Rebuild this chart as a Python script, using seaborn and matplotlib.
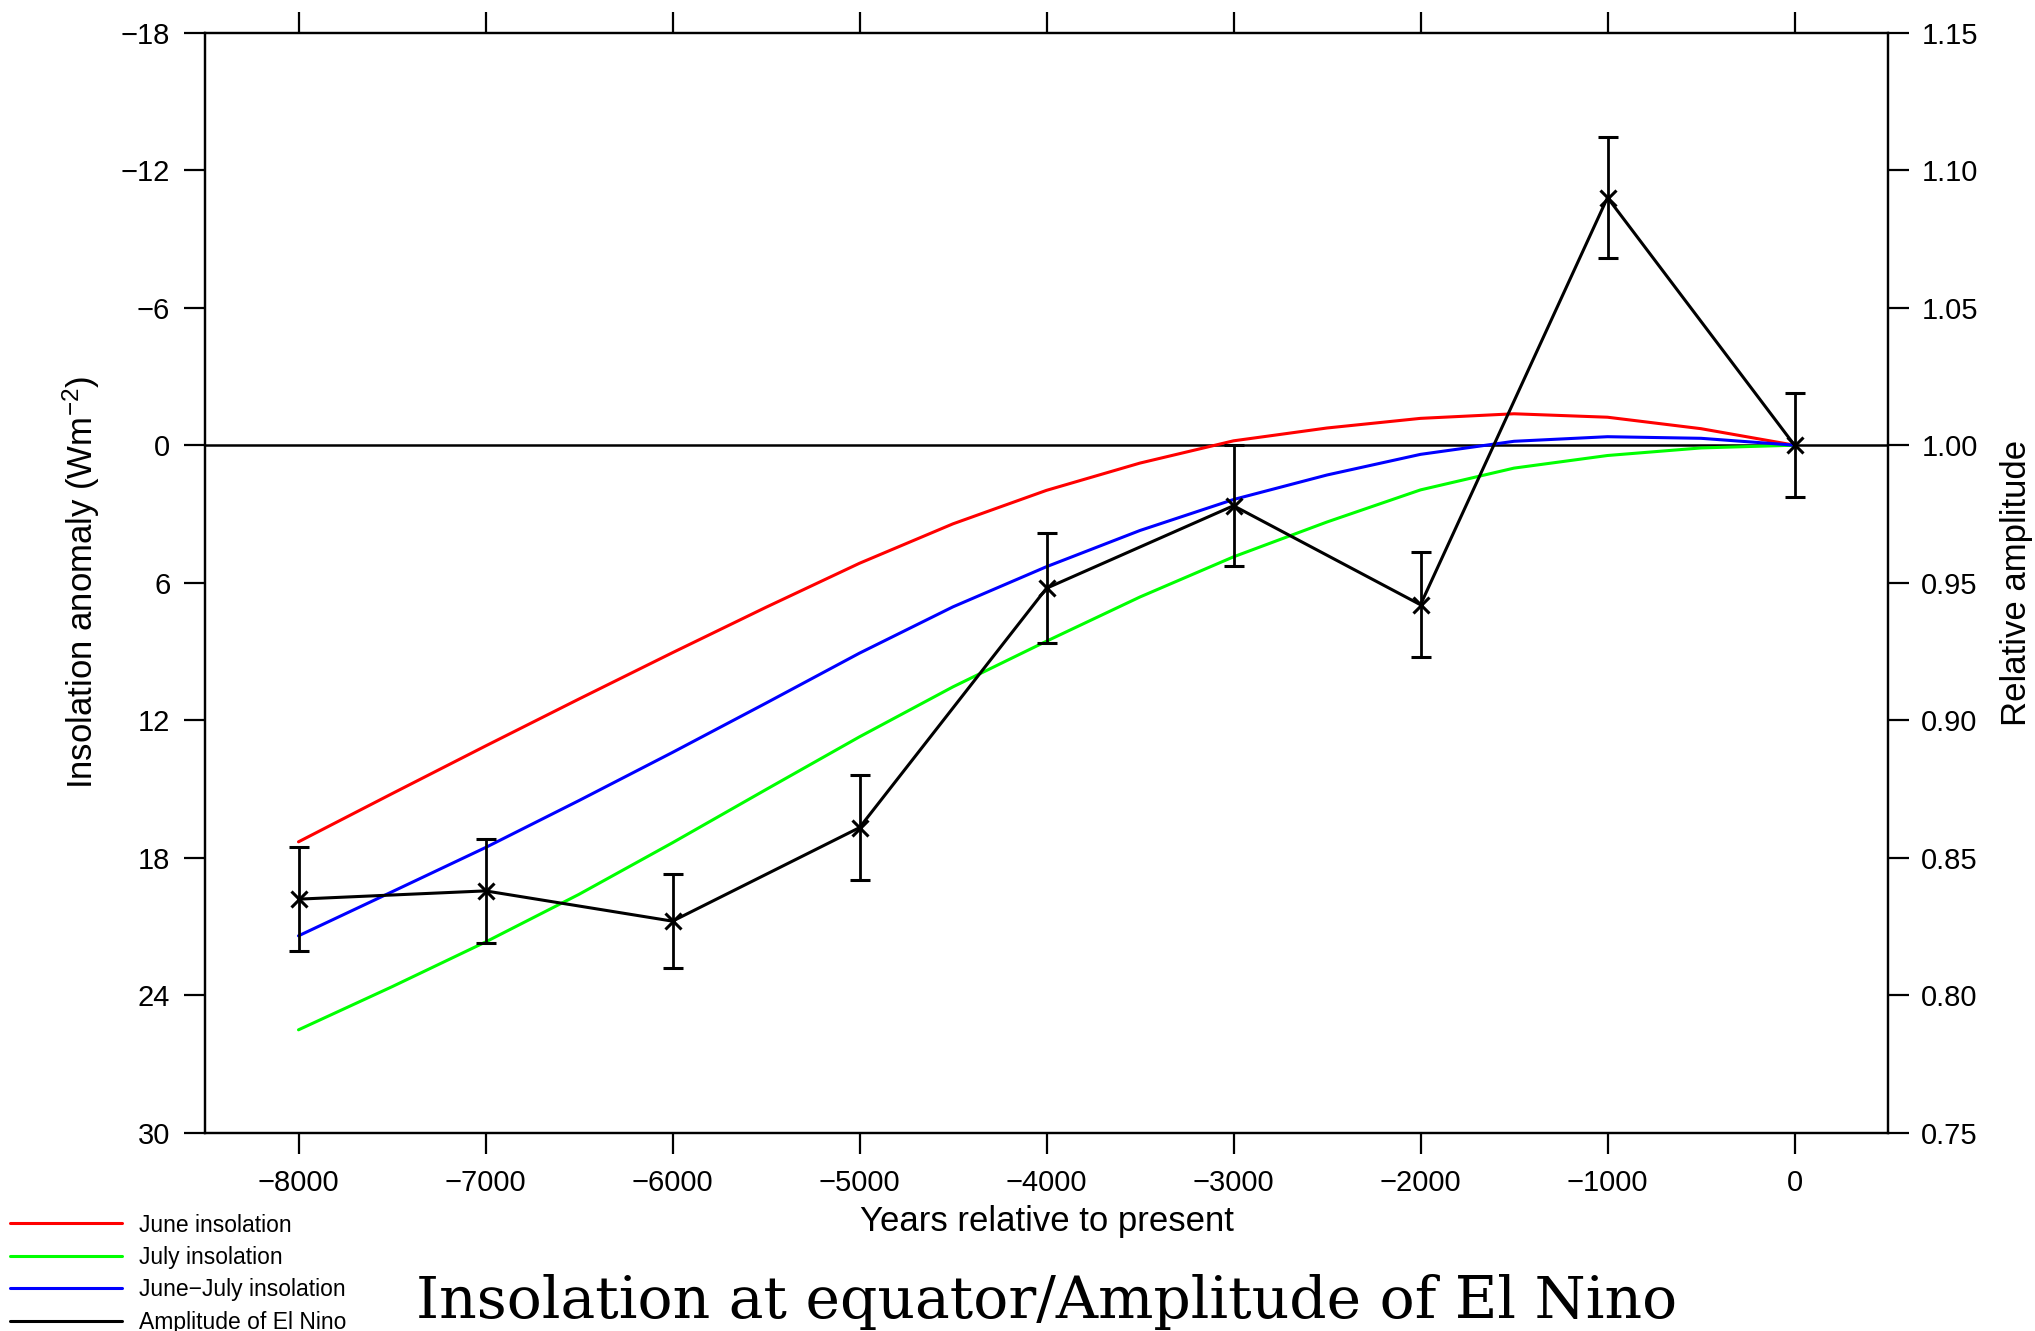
import numpy as np
import pandas as pd
import matplotlib
matplotlib.use("Agg")
import matplotlib.pyplot as plt
from matplotlib.lines import Line2D
import seaborn as sns

# ---------------- data ----------------
years = [-8000, -7500, -7000, -6500, -6000, -5500, -5000, -4500, -4000,
         -3500, -3000, -2500, -2000, -1500, -1000, -500, 0]
june_insolation = [17.3, 15.2, 13.12, 11.07, 9.05, 7.07, 5.15, 3.43, 1.97,
                   0.78, -0.19, -0.75, -1.17, -1.37, -1.22, -0.72, 0.0]
july_insolation = [25.5, 23.62, 21.67, 19.59, 17.34, 15.02, 12.72, 10.54, 8.55,
                   6.62, 4.87, 3.35, 1.95, 1.0, 0.45, 0.12, 0.0]
junejuly_insolation = [21.4, 19.48, 17.55, 15.5, 13.4, 11.25, 9.07, 7.05, 5.3,
                       3.72, 2.37, 1.3, 0.4, -0.17, -0.37, -0.3, 0.0]

nino_years = [-8000, -7000, -6000, -5000, -4000, -3000, -2000, -1000, 0]
nino_amplitude = [0.835, 0.838, 0.827, 0.861, 0.948, 0.978, 0.942, 1.090, 1.000]
nino_error = [0.019, 0.019, 0.017, 0.019, 0.020, 0.022, 0.019, 0.022, 0.019]

series_names = ["June insolation", "July insolation", "June\u2212July insolation"]
nino_name = "Amplitude of El Nino"
x_ticks = [-8000, -7000, -6000, -5000, -4000, -3000, -2000, -1000, 0]
left_ticks = [-18, -12, -6, 0, 6, 12, 18, 24, 30]
right_ticks = [0.75, 0.80, 0.85, 0.90, 0.95, 1.00, 1.05, 1.10, 1.15]

title = "Insolation at equator/Amplitude of El Nino"
xlabel = "Years relative to present"
ylabel_left = "Insolation anomaly (Wm$^{-2}$)"
ylabel_right = "Relative amplitude"

# ---------------- style ----------------
sns.set_style("ticks")
plt.rcParams["font.family"] = ["Liberation Sans", "DejaVu Sans"]
plt.rcParams["mathtext.default"] = "regular"
plt.rcParams["axes.linewidth"] = 1.6
for key in ["text.color", "axes.labelcolor", "xtick.color", "ytick.color",
            "axes.edgecolor"]:
    plt.rcParams[key] = "black"

colors = {series_names[0]: "#ff0000", series_names[1]: "#00ff00", series_names[2]: "#0000ff"}

df = pd.DataFrame({
    "year": years * 3,
    "value": june_insolation + july_insolation + junejuly_insolation,
    "series": [series_names[0]] * len(years) + [series_names[1]] * len(years)
              + [series_names[2]] * len(years),
})

W, H = 2035, 1331
fig = plt.figure(figsize=(W / 100, H / 100), dpi=100)
ax = fig.add_axes([205 / W, 1 - 1133 / H, 1683 / W, (1133 - 32.5) / H])

ax.axhline(0, color="black", lw=1.8, zorder=1)
sns.lineplot(data=df, x="year", y="value", hue="series", hue_order=series_names,
             palette=colors, ax=ax, legend=False, linewidth=2.2,
             estimator=None, sort=False, zorder=2)

ax.set_xlim(-8500, 500)
ax.set_ylim(30, -18)
ax.set_xticks(x_ticks)
ax.set_xticklabels([f"{v}".replace("-", "\u2212") for v in x_ticks])
ax.set_yticks(left_ticks)
ax.set_yticklabels([f"{v}".replace("-", "\u2212") for v in left_ticks])
ax.tick_params(axis="both", direction="out", length=15, width=1.6,
               labelsize=21, pad=10, colors="black")
ax.tick_params(axis="x", top=True, labeltop=False, pad=11)
for s in ax.spines.values():
    s.set_visible(True)
    s.set_linewidth(1.6)
    s.set_color("black")

ax.set_xlabel(xlabel, fontsize=25)
ax.xaxis.set_label_coords(0.5, (1133 - 1205) / 1100.5)
ax.set_ylabel(ylabel_left, fontsize=25)
ax.yaxis.set_label_coords((102 - 205) / 1683, 0.5)

ax2 = ax.twinx()
ax2.errorbar(nino_years, nino_amplitude, yerr=nino_error, color="black",
             marker="x", ms=12, mew=2.2, lw=2.2, capsize=7, capthick=2,
             elinewidth=2, zorder=3)
ax2.set_ylim(0.75, 1.15)
ax2.set_yticks(right_ticks)
ax2.set_yticklabels([f"{v:.2f}" for v in right_ticks])
ax2.tick_params(axis="y", direction="out", length=15, width=1.6,
                labelsize=21, pad=9, colors="black")
for s in ax2.spines.values():
    s.set_linewidth(1.6)
    s.set_color("black")
ax2.set_ylabel(ylabel_right, fontsize=25)
ax2.yaxis.set_label_coords((2000 - 205) / 1683, 0.5)

# legend (below-left, outside the axes)
handles = [Line2D([], [], color=colors[n], lw=2.2) for n in series_names]
handles.append(Line2D([], [], color="black", lw=2.2))
fig.legend(handles, series_names + [nino_name], loc="upper left",
           bbox_to_anchor=(10 / W, 1 - 1213.5 / H), frameon=False, fontsize=16.5,
           handlelength=4.9, handletextpad=0.74, labelspacing=0.41,
           borderpad=0, borderaxespad=0, labelcolor="black")

# title at the bottom, fitted to the reference width
t = fig.text(1047 / W, 1 - 1318 / H, title, family="DejaVu Serif",
             ha="center", va="baseline", fontsize=36, color="black")
r = fig.canvas.get_renderer()
w = t.get_window_extent(renderer=r).width
t.set_fontsize(36 * 1260 / w)

fig.savefig("out.png", dpi=100, facecolor="white")
